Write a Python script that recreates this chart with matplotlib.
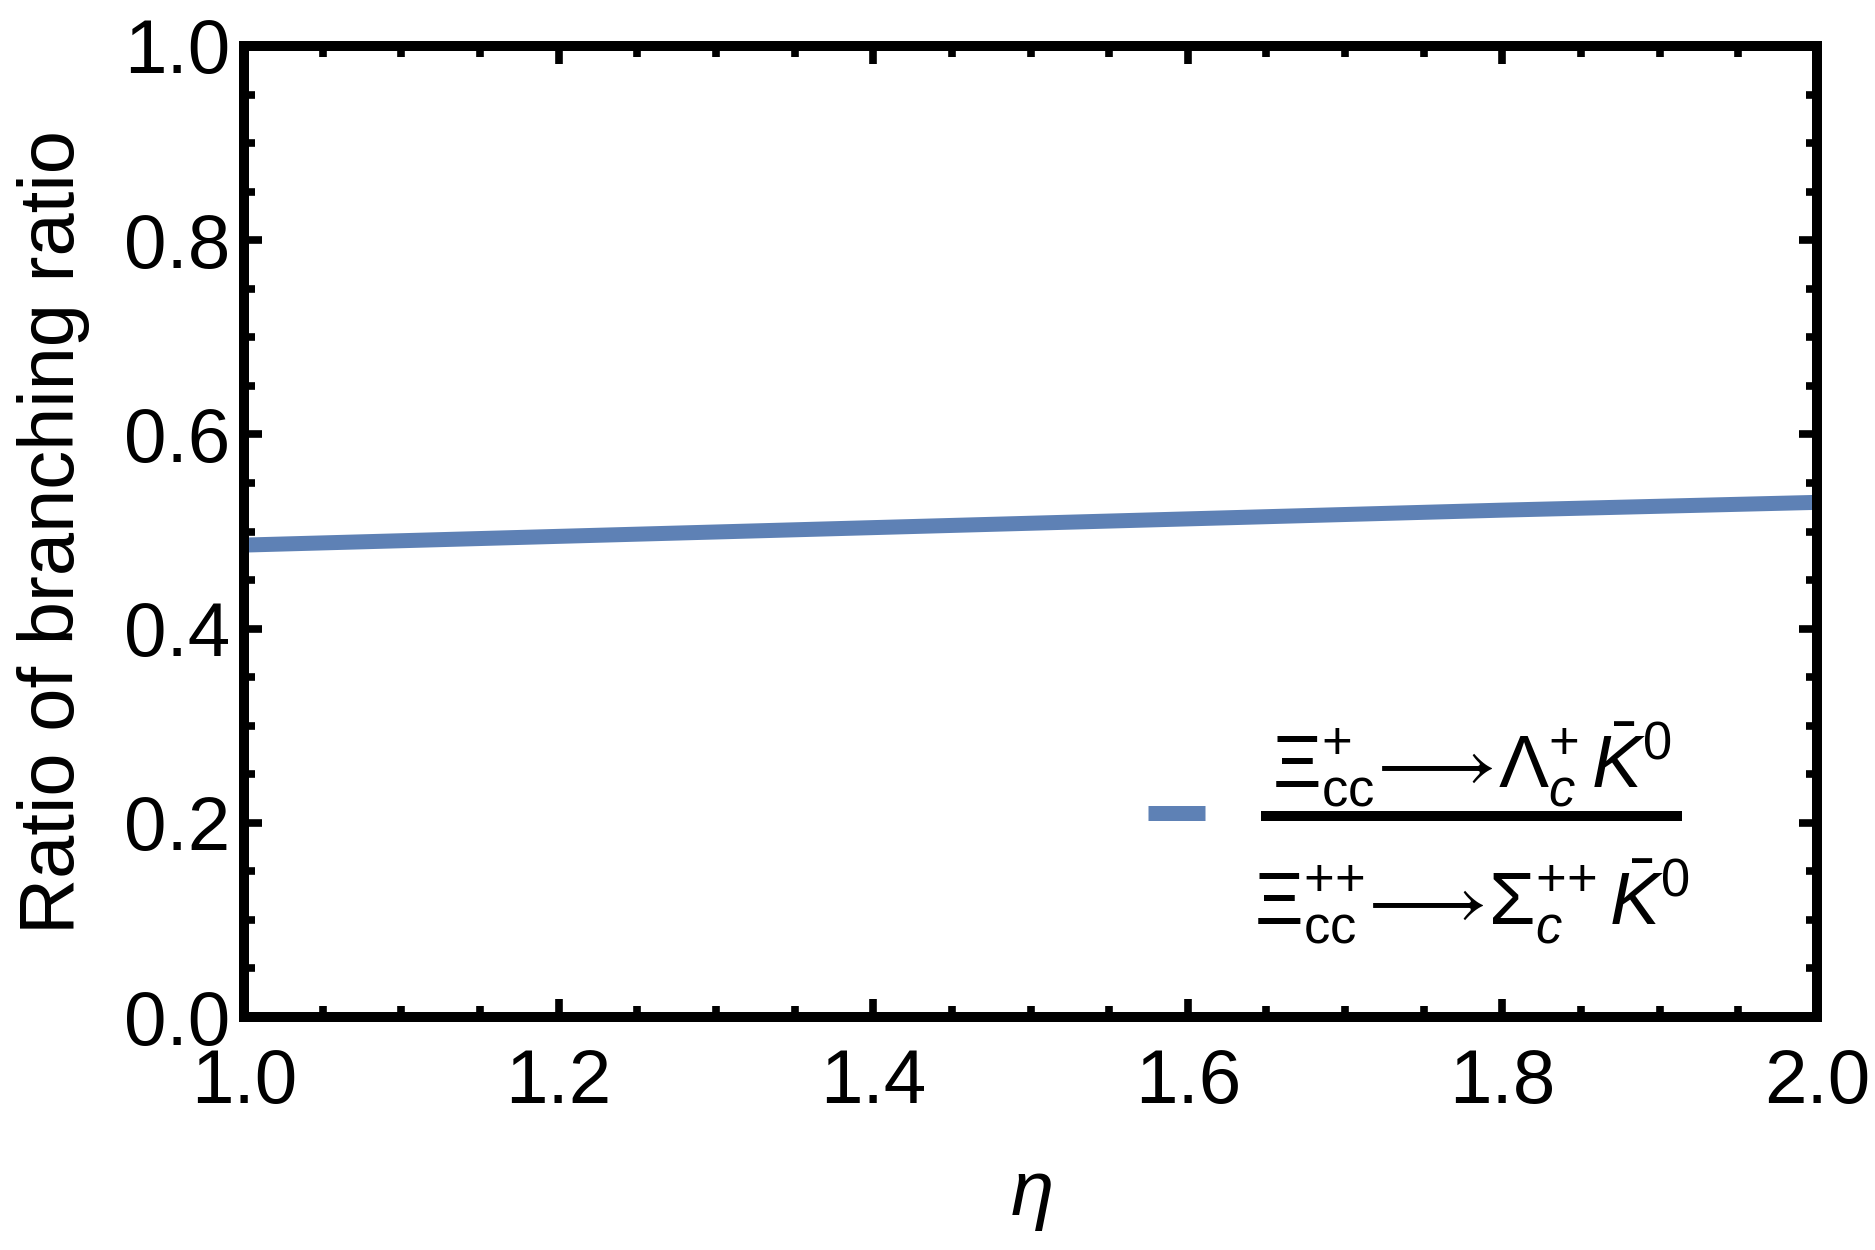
import matplotlib
matplotlib.use("Agg")
import matplotlib.pyplot as plt
from matplotlib.ticker import MultipleLocator
from matplotlib.lines import Line2D

# ---- data ----
eta = [1.0, 1.2, 1.4, 1.6, 1.8, 2.0]
ratio = [0.486, 0.495, 0.504, 0.513, 0.522, 0.530]
xticks = [1.0, 1.2, 1.4, 1.6, 1.8, 2.0]
yticks = [0.0, 0.2, 0.4, 0.6, 0.8, 1.0]
xlabels = ["1.0", "1.2", "1.4", "1.6", "1.8", "2.0"]
ylabels = ["0.0", "0.2", "0.4", "0.6", "0.8", "1.0"]
num_text = r'$\Xi_{\mathrm{cc}}^{+}\!\longrightarrow\!\Lambda_{c}^{+}\,\bar{K}^{0}$'
den_text = r'$\Xi_{\mathrm{cc}}^{{+}{+}}\!\longrightarrow\!\Sigma_{c}^{{+}{+}}\,\bar{K}^{0}$'

plt.rcParams['font.family'] = ['Liberation Sans', 'DejaVu Sans']
plt.rcParams['mathtext.fontset'] = 'custom'
plt.rcParams['mathtext.rm'] = 'Liberation Sans'
plt.rcParams['mathtext.it'] = 'Liberation Sans:italic'
plt.rcParams['mathtext.bf'] = 'Liberation Sans:bold'

W, H = 1875, 1250
fig = plt.figure(figsize=(W / 100, H / 100), dpi=100)
ax = fig.add_axes([244 / W, 1 - 1017 / H, (1817 - 244) / W, (1017 - 46) / H])

color = '#5E81B5'
ax.plot(eta, ratio, color=color, lw=10.8, solid_capstyle='butt', clip_on=True)

ax.set_xlim(1.0, 2.0)
ax.set_ylim(0.0, 1.0)
ax.set_xticks(xticks)
ax.set_xticklabels(xlabels)
ax.set_yticks(yticks)
ax.set_yticklabels(ylabels)
ax.xaxis.set_minor_locator(MultipleLocator(0.05))
ax.yaxis.set_minor_locator(MultipleLocator(0.05))
ax.tick_params(which='both', direction='in', top=True, right=True, width=5.5, color='black')
ax.tick_params(which='major', length=13, labelsize=55, pad=10)
ax.tick_params(which='minor', length=8)
ax.tick_params(axis='x', which='major', pad=22)
for s in ax.spines.values():
    s.set_linewidth(7.2)

ax.set_xlabel(r'$\eta$', fontsize=56, labelpad=30)
ax.set_ylabel('Ratio of branching ratio', fontsize=56, labelpad=24)

# legend: handle line + fraction label
bar_y = (1017 - 816) / 971
handle = Line2D([0], [0], color=color, lw=10.8, solid_capstyle='butt')
leg = ax.legend([handle], [' '], loc='center left',
                bbox_to_anchor=((1148 - 244) / 1573, (1017 - 820) / 971),
                frameon=False, handlelength=0.75, handletextpad=0.0, borderpad=0,
                borderaxespad=0, fontsize=55)

tx = (1472 - 244) / 1573
ax.text(tx, (1017 - 810) / 971, num_text, transform=ax.transAxes,
        ha='center', va='bottom', fontsize=54)
ax.text(tx, (1017 - 858) / 971, den_text, transform=ax.transAxes,
        ha='center', va='top', fontsize=54)
ax.plot([(1261 - 244) / 1573, (1682 - 244) / 1573], [bar_y] * 2,
        transform=ax.transAxes, color='black', lw=7.2, solid_capstyle='butt', clip_on=False)

fig.savefig('out.png', dpi=100, facecolor='white')
